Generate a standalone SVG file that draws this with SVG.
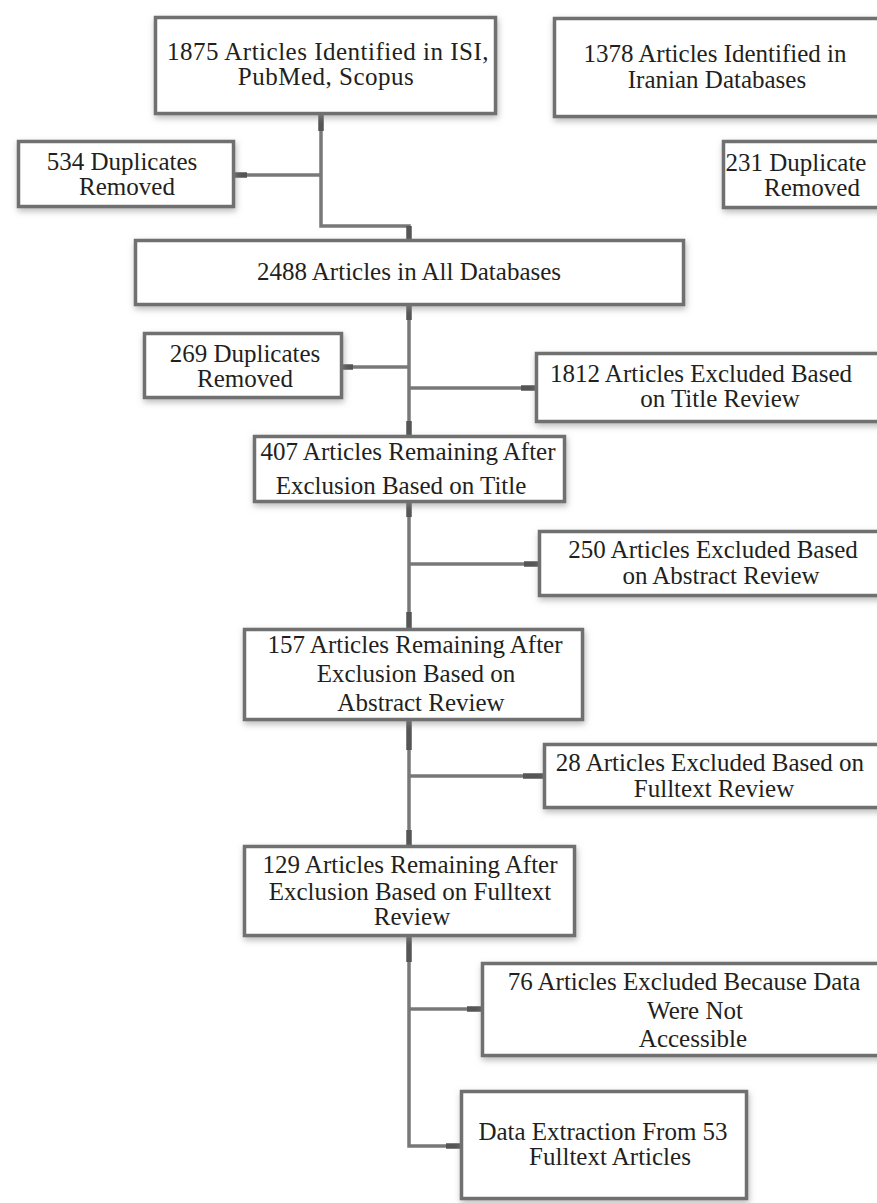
<svg xmlns="http://www.w3.org/2000/svg" width="877" height="1203" viewBox="0 0 877 1203">
<style>
.box{fill:#fff;stroke:#707070;stroke-width:3.5;filter:url(#sh)}
.t{font-family:"Liberation Serif","Times New Roman",serif;font-size:25px;fill:#231f20;text-anchor:middle}
.w{letter-spacing:0.5px}
.ln{fill:none;stroke:#787878;stroke-width:3.5;stroke-linejoin:miter}
.cap{stroke:#555;stroke-width:5.5;fill:none}
</style>
<defs>
<filter id="sh" x="-10%" y="-20%" width="125%" height="150%">
<feGaussianBlur in="SourceAlpha" stdDeviation="3"/>
<feOffset dx="1" dy="3" result="b"/>
<feFlood flood-color="#8c8c8c" flood-opacity="0.6"/>
<feComposite in2="b" operator="in"/>
<feMerge><feMergeNode/><feMergeNode in="SourceGraphic"/></feMerge>
</filter>
</defs>
<rect width="877" height="1203" fill="#fff"/>
<g id="connectors">
<path class="ln" d="M321 115 V226 H409 V239"/>
<path class="ln" d="M321 175 H235"/>
<path class="ln" d="M409 306 V435"/>
<path class="ln" d="M409 367 H343"/>
<path class="ln" d="M409 388 H535"/>
<path class="ln" d="M409 503 V628"/>
<path class="ln" d="M409 564 H538"/>
<path class="ln" d="M409 721 V845"/>
<path class="ln" d="M409 776 H543"/>
<path class="ln" d="M409 937 V1146 H460"/>
<path class="ln" d="M409 1009 H481"/>
<path class="cap" d="M321 115 V131 M409 226 V239 M235 175 H247 M409 306 V320 M409 421 V435 M343 367 H353 M521 388 H535 M409 503 V517 M409 612 V628 M524 564 H538 M409 721 V750 M409 830 V845 M523 776 H543 M409 937 V962 M467 1009 H481 M446 1146 H460"/>
</g>
<g id="n1875"><rect class="box" x="155.5" y="17.5" width="340" height="96"/>
<text class="t w" x="328" y="60">1875 Articles Identified in ISI,</text>
<text class="t w" x="326" y="85">PubMed, Scopus</text></g>
<g id="n1378"><rect class="box" x="554.5" y="18.5" width="340" height="98"/>
<text class="t" x="715" y="62">1378 Articles Identified in</text>
<text class="t" x="717" y="88">Iranian Databases</text></g>
<g id="n534"><rect class="box" x="18.5" y="141.5" width="215" height="65"/>
<text class="t" x="122" y="170">534 Duplicates</text>
<text class="t" x="127" y="195">Removed</text></g>
<g id="n231"><rect class="box" x="723.5" y="141.5" width="170" height="66"/>
<text class="t" x="796" y="171">231 Duplicate</text>
<text class="t" x="812" y="196">Removed</text></g>
<g id="n2488"><rect class="box" x="135.5" y="240.5" width="548" height="64"/>
<text class="t" x="409" y="280">2488 Articles in All Databases</text></g>
<g id="n269"><rect class="box" x="144.5" y="333.5" width="197" height="64"/>
<text class="t" x="245" y="362">269 Duplicates</text>
<text class="t" x="245" y="387">Removed</text></g>
<g id="n1812"><rect class="box" x="536.5" y="353.5" width="360" height="68"/>
<text class="t" x="701" y="382">1812 Articles Excluded Based</text>
<text class="t" x="720" y="407">on Title Review</text></g>
<g id="n407"><rect class="box" x="254.5" y="436.5" width="310" height="65"/>
<text class="t" x="408" y="460">407 Articles Remaining After</text>
<text class="t" x="401" y="494">Exclusion Based on Title</text></g>
<g id="n250"><rect class="box" x="539.5" y="531.5" width="360" height="64"/>
<text class="t" x="713" y="558">250 Articles Excluded Based</text>
<text class="t" x="721" y="584">on Abstract Review</text></g>
<g id="n157"><rect class="box" x="244.5" y="629.5" width="338" height="90"/>
<text class="t" x="415" y="653">157 Articles Remaining After</text>
<text class="t" x="416" y="682">Exclusion Based on</text>
<text class="t" x="421" y="711">Abstract Review</text></g>
<g id="n28"><rect class="box" x="544.5" y="744.5" width="350" height="63"/>
<text class="t" x="710" y="771">28 Articles Excluded Based on</text>
<text class="t" x="714" y="797">Fulltext Review</text></g>
<g id="n129"><rect class="box" x="244.5" y="846.5" width="330" height="89"/>
<text class="t" x="410" y="873">129 Articles Remaining After</text>
<text class="t" x="410" y="900">Exclusion Based on Fulltext</text>
<text class="t" x="412" y="925">Review</text></g>
<g id="n76"><rect class="box" x="482.5" y="963.5" width="410" height="92"/>
<text class="t" x="684" y="990">76 Articles Excluded Because Data</text>
<text class="t" x="695" y="1019">Were Not</text>
<text class="t" x="693" y="1047">Accessible</text></g>
<g id="nData"><rect class="box" x="461.5" y="1091.5" width="285" height="107"/>
<text class="t" x="603" y="1140">Data Extraction From 53</text>
<text class="t" x="610" y="1165">Fulltext Articles</text></g>
</svg>
